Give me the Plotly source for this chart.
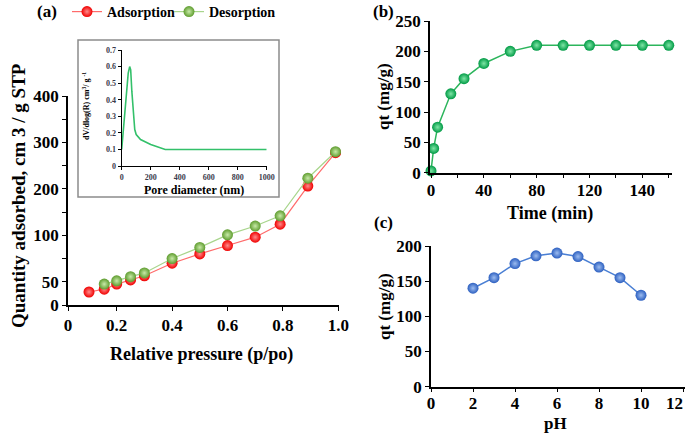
import plotly.graph_objects as go

# ---------------- data ----------------
# (a) N2 isotherm (y in the axis' own linear units: one tick = 50)
p_ads = [0.10, 0.155, 0.20, 0.25, 0.30, 0.40, 0.50, 0.60, 0.70, 0.79, 0.89, 0.99]
q_ads = [28, 34, 45, 54, 63, 90, 110, 128, 146, 174, 256, 328]
p_des = [0.155, 0.20, 0.25, 0.30, 0.40, 0.50, 0.60, 0.70, 0.79, 0.89, 0.99]
q_des = [45, 52, 61, 69, 100, 124, 151, 170, 192, 273, 330]
a_ytick_vals = [0, 50, 100, 150, 200, 250, 300, 350, 400, 450]
a_ytick_text = ["0", "50", "", "100", "", "200", "", "300", "", "400"]
a_xtick_text = ["0", "0.2", "0.4", "0.6", "0.8", "1.0"]

# inset: pore size distribution
pore_d = [0, 15, 30, 45, 55, 62, 70, 80, 90, 100, 130, 200, 300, 1000]
dv_dlogr = [0.10, 0.25, 0.42, 0.56, 0.60, 0.58, 0.45, 0.30, 0.22, 0.19, 0.16, 0.13, 0.10, 0.10]

# (b) contact time
time_min = [0, 2, 5, 15, 25, 40, 60, 80, 100, 120, 140, 160, 180]
qt_time = [3, 40, 75, 130, 155, 180, 200, 210, 210, 210, 210, 210, 210]
b_xtick_vals = [0, 20, 40, 60, 80, 100, 120, 140, 160, 180]
b_xtick_text = ["0", "", "40", "", "80", "", "120", "", "140", ""]

# (c) pH
ph = [2, 3, 4, 5, 6, 7, 8, 9, 10]
qt_ph = [140, 155, 175, 186, 190, 185, 170, 155, 130]
c_xtick_vals = [0, 2, 4, 6, 8, 10, 12]
c_xtick_text = ["0", "2", "4", "6", "8", "10", "12&nbsp;&nbsp;&nbsp;&nbsp;"]

# ---------------- layout helpers ----------------
W, H = 685, 434
def fx(px):
    return px / W
def fy(py):
    return 1 - py / H

FONT = "Liberation Serif"
BLACK = "#000000"
MS = 11

fig = go.Figure()

# (a) main
fig.add_trace(go.Scatter(
    x=p_ads, y=q_ads, name="Adsorption", mode="lines+markers", legend="legend",
    line=dict(color="#ff6b6b", width=1.2),
    marker=dict(size=MS, color="#f00000", gradient=dict(type="radial", color="#ff8a8a"),
                line=dict(width=0)),
    xaxis="x", yaxis="y", cliponaxis=False))
fig.add_trace(go.Scatter(
    x=p_des, y=q_des, name="Desorption", mode="lines+markers", legend="legend2",
    line=dict(color="#a8d58c", width=1.2),
    marker=dict(size=MS, color="#5e9c2e", gradient=dict(type="radial", color="#c8eaa8"),
                line=dict(width=0)),
    xaxis="x", yaxis="y", cliponaxis=False))

# inset
fig.add_trace(go.Scatter(
    x=pore_d, y=dv_dlogr, mode="lines", showlegend=False,
    line=dict(color="#33c06a", width=1.6),
    xaxis="x4", yaxis="y4"))

# (b)
fig.add_trace(go.Scatter(
    x=time_min, y=qt_time, mode="lines+markers", showlegend=False,
    line=dict(color="#2cb55c", width=1.5),
    marker=dict(size=MS, color="#009a45", gradient=dict(type="radial", color="#7fe6a6"),
                line=dict(width=0)),
    xaxis="x2", yaxis="y2", cliponaxis=False))

# (c)
fig.add_trace(go.Scatter(
    x=ph, y=qt_ph, mode="lines+markers", showlegend=False,
    line=dict(color="#4a7fd4", width=1.5),
    marker=dict(size=MS, color="#2c5fc0", gradient=dict(type="radial", color="#9cbcf0"),
                line=dict(width=0)),
    xaxis="x3", yaxis="y3", cliponaxis=False))

def axis_common(size=17, color=BLACK):
    return dict(showline=True, linecolor=BLACK, linewidth=1.5, ticks="outside",
                ticklen=4, tickwidth=1.2, tickcolor=BLACK, showgrid=False, zeroline=False,
                automargin=False,
                tickfont=dict(family=FONT, size=size, color=color, weight="bold"))

inset_ax = {**axis_common(8, "#3a3a4a"), "linewidth": 1, "ticklen": 3, "tickwidth": 1}

# (a) axes
a_x0px, a_x1px = 68, 339
a_xr0 = 0.2 + (a_x0px - 116.7) / 277.0
a_xr1 = 0.2 + (a_x1px - 116.7) / 277.0
fig.update_layout(
    xaxis=dict(domain=[fx(a_x0px), fx(a_x1px)], range=[a_xr0, a_xr1], anchor="y",
               tickmode="array", tickvals=[a_xr0, 0.2, 0.4, 0.6, 0.8, 1.0],
               ticktext=a_xtick_text, **axis_common(17)),
    yaxis=dict(domain=[fy(305), fy(96)], range=[0, 450], anchor="x",
               tickmode="array", tickvals=a_ytick_vals, ticktext=a_ytick_text,
               **axis_common(17)),
    xaxis4=dict(domain=[fx(121.7), fx(266.7)], range=[0, 1000], anchor="y4",
                tickmode="array", tickvals=[0, 200, 400, 600, 800, 1000], **inset_ax),
    yaxis4=dict(domain=[fy(166), fy(50)], range=[0, 0.7], anchor="x4",
                tickmode="array", tickvals=[0, 0.1, 0.2, 0.3, 0.4, 0.5, 0.6, 0.7],
                ticktext=["0", "0.1", "0.2", "0.3", "0.4", "0.5", "0.6", "0.7"], **inset_ax),
)

# (b) axes
b_scale = 1.321
fig.update_layout(
    xaxis2=dict(domain=[fx(430), fx(672)], range=[(430 - 431) / b_scale, (672 - 431) / b_scale],
                anchor="y2", tickmode="array", tickvals=b_xtick_vals, ticktext=b_xtick_text,
                ticklabelstandoff=-3, **axis_common(17)),
    yaxis2=dict(domain=[fy(172.7), fy(21)], range=[0, 250], anchor="x2",
                tickmode="array", tickvals=[0, 50, 100, 150, 200, 250], **axis_common(17)),
)

# (c) axes
fig.update_layout(
    xaxis3=dict(domain=[fx(431), fx(685)], range=[0, (685 - 431) / 21.0], anchor="y3",
                tickmode="array", tickvals=c_xtick_vals, ticktext=c_xtick_text,
                ticklabeloverflow="allow", ticklabelstandoff=-4, **axis_common(17)),
    yaxis3=dict(domain=[fy(386.7), fy(246)], range=[0, 200], anchor="x3",
                tickmode="array", tickvals=[0, 50, 100, 150, 200], **axis_common(17)),
)

# inset frame
fig.add_shape(type="rect", xref="paper", yref="paper",
              x0=fx(78), x1=fx(279), y0=fy(197), y1=fy(40),
              line=dict(color="#8c8c8c", width=1.5), fillcolor="white", layer="below")

def ann(text, x, y, size, angle=0, xanchor="center", yanchor="middle", color=BLACK):
    fig.add_annotation(text=text, x=fx(x), y=fy(y), xref="paper", yref="paper",
                       showarrow=False, textangle=angle, xanchor=xanchor, yanchor=yanchor,
                       font=dict(family=FONT, size=size, color=color, weight="bold"))

ann("(a)", 47, 12, 17)
ann("(b)", 383, 12, 17)
ann("(c)", 383, 222, 17)
ann("Quantity adsorbed, cm 3 / g STP", 18, 196, 19, angle=-90)
ann("Relative pressure (p/po)", 201, 354, 18)
ann("Pore diameter (nm)", 194, 190, 12)
ann("dV/dlog(R) cm<sup>3</sup>/ g <sup>-1</sup>", 86, 106, 8, angle=-90)
ann("qt (mg/g)", 384, 97, 17, angle=-90)
ann("Time (min)", 550, 213, 18)
ann("qt (mg/g)", 384, 307, 17, angle=-90)
ann("pH", 555, 423, 17)

leg_common = dict(orientation="h", yanchor="middle", xanchor="left",
                  font=dict(family=FONT, size=14, color=BLACK, weight="bold"),
                  bgcolor="rgba(0,0,0,0)", itemwidth=30)
fig.update_layout(
    width=W, height=H, margin=dict(l=0, r=0, t=0, b=0, autoexpand=False),
    paper_bgcolor="white", plot_bgcolor="rgba(0,0,0,0)",
    font=dict(family=FONT, color=BLACK),
    showlegend=True,
    legend=dict(x=fx(67), y=fy(12), **leg_common),
    legend2=dict(x=fx(169), y=fy(12), **leg_common),
)

fig.write_html("out.html", config={"displayModeBar": False},
               post_script="document.body.style.margin='0px';")
